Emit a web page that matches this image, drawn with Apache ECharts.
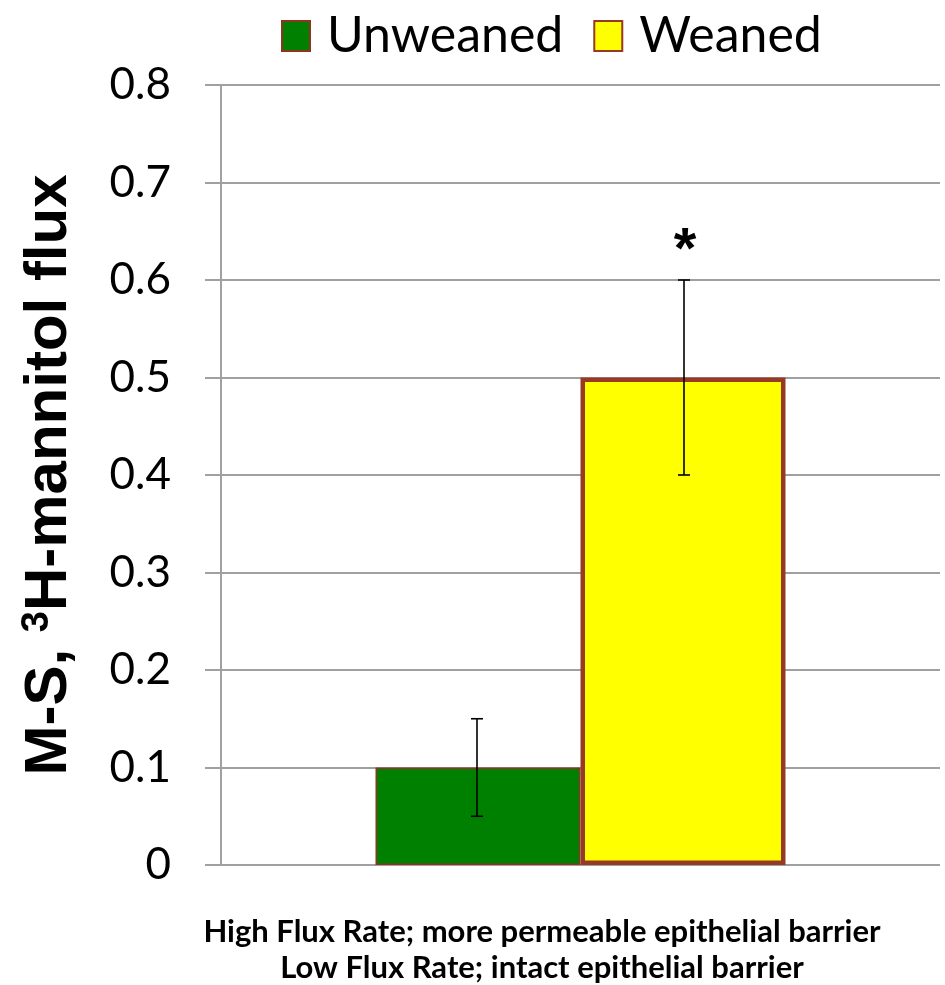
<!DOCTYPE html>
<html>
<head>
<meta charset="utf-8">
<script src="https://cdn.jsdelivr.net/npm/echarts@6/dist/echarts.min.js"></script>
<style>html,body{margin:0;padding:0;background:#fff}#c{width:945px;height:985px}</style>
</head>
<body>
<div id="c"></div>
<script>
var categories = ['Group'];
var seriesNames = ['Unweaned', 'Weaned'];
var unweanedValues = [0.1];
var weanedValues = [0.5];
var unweanedError = [[0.05, 0.15]];
var weanedError = [[0.4, 0.6]];
var yTicks = [0, 0.1, 0.2, 0.3, 0.4, 0.5, 0.6, 0.7, 0.8];
var xLines = ['High Flux Rate; more permeable epithelial barrier', 'Low Flux Rate; intact epithelial barrier'];

var BAR_W = 205;
var chart = echarts.init(document.getElementById('c'));

function errRender(offsetSign, star) {
  return function (params, api) {
    var lo = api.value(1), hi = api.value(2);
    var pLo = api.coord([api.value(0), lo]);
    var pHi = api.coord([api.value(0), hi]);
    var x = pLo[0] + offsetSign * (BAR_W / 2 + 1);
    var cap = 6;
    var st = { stroke: '#000', lineWidth: 1.6 };
    var children = [
      { type: 'line', shape: { x1: x, y1: pLo[1], x2: x, y2: pHi[1] }, style: st },
      { type: 'line', shape: { x1: x - cap, y1: pLo[1], x2: x + cap, y2: pLo[1] }, style: st },
      { type: 'line', shape: { x1: x - cap, y1: pHi[1], x2: x + cap, y2: pHi[1] }, style: st }
    ];
    if (star) {
      children.push({ type: 'text', style: { text: '*', x: x + 1, y: pHi[1] - 28, align: 'center', verticalAlign: 'middle', font: 'bold 58px "Liberation Sans"', fill: '#000' } });
    }
    return { type: 'group', children: children };
  };
}

chart.setOption({
  animation: false,
  legend: {
    top: 6, left: 276,
    icon: 'rect',
    itemWidth: 28, itemHeight: 30, itemGap: 30,
    textStyle: { fontFamily: 'Lato', fontSize: 50, color: '#000', padding: [0, 0, 0, 12] },
    data: seriesNames
  },
  grid: { left: 221, right: 5, top: 85, bottom: 120, containLabel: false, outerBoundsMode: 'none' },
  xAxis: {
    type: 'category', data: categories,
    axisLine: { show: false }, axisTick: { show: false }, axisLabel: { show: false }
  },
  yAxis: {
    type: 'value', min: 0, max: 0.8, interval: 0.1,
    axisLine: { show: true, lineStyle: { color: '#a0a0a0', width: 2 } },
    axisTick: { show: true, length: 16, lineStyle: { color: '#a0a0a0', width: 2 } },
    splitLine: { lineStyle: { color: '#a0a0a0', width: 2 } },
    axisLabel: {
      margin: 50, fontFamily: 'Lato', fontSize: 44, color: '#000',
      formatter: function (v) { return v === 0 ? '0' : v.toFixed(1); }
    },
    name: '{b|M-S, }{s|3}{b|H-mannitol flux}',
    nameLocation: 'middle', nameGap: 142,
    nameTextStyle: {
      rich: {
        b: { fontFamily: 'Liberation Sans', fontWeight: 'bold', fontSize: 60, color: '#000' },
        s: { fontFamily: 'Liberation Sans', fontWeight: 'bold', fontSize: 38, color: '#000', verticalAlign: 'top', padding: [0, 0, 22, 0] }
      }
    }
  },
  series: [
    { name: 'Unweaned', type: 'bar', data: unweanedValues, barWidth: BAR_W, barGap: '0%',
      itemStyle: { color: '#008000', borderColor: '#8e3522', borderWidth: 1.5 } },
    { name: 'Weaned', type: 'bar', data: weanedValues, barWidth: BAR_W, barGap: '0%',
      itemStyle: { color: '#ffff00', borderColor: '#963a26', borderWidth: 4.5 } },
    { type: 'custom', renderItem: errRender(-1, false), silent: true, z: 10,
      data: unweanedError.map(function (e, i) { return [i, e[0], e[1]]; }) },
    { type: 'custom', renderItem: errRender(1, true), silent: true, z: 10,
      data: weanedError.map(function (e, i) { return [i, e[0], e[1]]; }) }
  ],
  graphic: xLines.map(function (t, i) {
    return { type: 'text', x: 542, y: 932 + i * 36, z: 10,
      style: { text: t, font: 'bold 31px Lato', fill: '#000', align: 'center', verticalAlign: 'middle' } };
  })
});
</script>
</body>
</html>
